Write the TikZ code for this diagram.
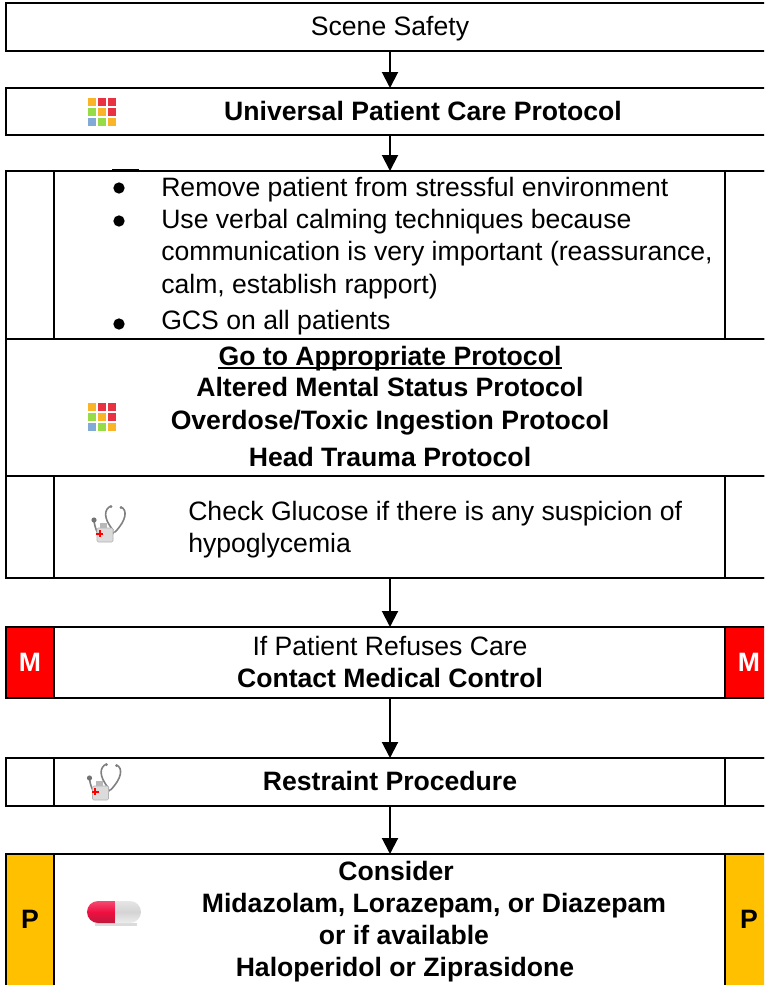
\documentclass[tikz,border=0pt]{standalone}
\usepackage{fontspec}
\setmainfont{Liberation Sans}
\usetikzlibrary{arrows.meta}
\definecolor{medred}{RGB}{255,0,0}
\definecolor{pgold}{RGB}{255,192,0}
\definecolor{gorange}{RGB}{250,180,40}
\definecolor{gred}{RGB}{232,50,65}
\definecolor{ggreen}{RGB}{150,220,70}
\definecolor{gblue}{RGB}{130,170,215}
\definecolor{pillred}{RGB}{240,15,65}
\definecolor{pilldark}{RGB}{190,25,60}
\tikzset{
  x=0.75pt,y=-0.75pt,
  boxframe/.style={draw=black,line width=1.5pt,inner sep=0pt,outer sep=0pt},
  redcell/.style={boxframe,fill=medred},
  goldcell/.style={boxframe,fill=pgold},
  txt/.style={anchor=base,inner sep=0pt,font=\fontsize{19.95pt}{24pt}\selectfont},
  ltxt/.style={txt,anchor=base west},
  btxt/.style={txt,font=\fontsize{19.95pt}{24pt}\selectfont\bfseries},
  flow/.style={draw=black,line width=1.5pt,-{Triangle[length=12pt,width=12pt]}},
  bulletdot/.style={circle,fill=black,inner sep=0pt,minimum size=8.5pt},
  tube/.style={draw=black!50,line width=1.2pt,line cap=round},
}
% \cellbox{name}{x1}{y1}{x2}{y2}{style}
\newcommand{\cellbox}[6]{%
  \pgfmathsetmacro{\cbw}{(#4-#2)*0.75}%
  \pgfmathsetmacro{\cbh}{(#5-#3)*0.75}%
  \node[#6,minimum width=\cbw pt,minimum height=\cbh pt] (#1) at ({(#2+#4)/2},{(#3+#5)/2}) {};}
\newcommand{\gridicon}[2]{%
  \begin{scope}[shift={(#1,#2)}]
    \foreach \cx/\cy/\cc in {0/0/gorange,10/0/gred,20/0/gred,0/10/ggreen,10/10/gorange,20/10/gred,0/20/gblue,10/20/ggreen,20/20/gorange}{
      \fill[\cc] (\cx,\cy) rectangle ++(8,8);
    }
  \end{scope}}
\newcommand{\stethicon}[2]{%
  \begin{scope}[shift={(#1,#2)}]
    \draw[tube] (31,11) .. controls (24,14) and (23,23) .. (33,35);
    \draw[tube] (41,12) .. controls (48,15) and (46,26) .. (35,37);
    \draw[tube] (34,37) .. controls (28,47) and (17,46) .. (14,26);
    \fill[black!55] (14,25) circle (2.6);
    \fill[black!50] (31,11.5) circle (1.5);
    \fill[black!50] (41,12.5) circle (1.5);
    \fill[black!14,draw=black!30,line width=0.4pt,rounded corners=1pt] (17,33) rectangle (33,47);
    \fill[black!28] (20,28) rectangle (27,33);
    \fill[red] (16,37.5) rectangle (23,39.5);
    \fill[red] (18.5,35) rectangle (20.5,42);
  \end{scope}}
\begin{document}
\begin{tikzpicture}
\useasboundingbox (0,0) rectangle (764,985);
\begin{scope}
\clip (0,0) rectangle (764,985);
% boxes
\cellbox{safety}{6}{3}{772}{51}{boxframe}
\cellbox{upcp}{6}{88}{772}{135}{boxframe}
\cellbox{care}{6}{171}{772}{339}{boxframe}
\cellbox{careL}{6}{171}{54}{339}{boxframe}
\cellbox{careR}{725}{171}{772}{339}{boxframe}
\cellbox{appro}{6}{339}{772}{476}{boxframe}
\cellbox{gluc}{6}{476}{772}{578}{boxframe}
\cellbox{glucL}{6}{476}{54}{578}{boxframe}
\cellbox{glucR}{725}{476}{772}{578}{boxframe}
\cellbox{refuse}{54}{627}{725}{698}{boxframe}
\cellbox{refuseL}{6}{627}{54}{698}{redcell}
\cellbox{refuseR}{725}{627}{772}{698}{redcell}
\cellbox{restr}{6}{758}{772}{806}{boxframe}
\cellbox{restrL}{6}{758}{54}{806}{boxframe}
\cellbox{restrR}{725}{758}{772}{806}{boxframe}
\cellbox{meds}{54}{854}{725}{995}{boxframe}
\cellbox{medsL}{6}{854}{54}{995}{goldcell}
\cellbox{medsR}{725}{854}{772}{995}{goldcell}
\end{scope}
\coordinate (ax) at (390,0);
\coordinate (markA) at (112,170.5);
\coordinate (markB) at (139,170.5);
% connectors
\draw[flow] (safety.south -| ax) -- (upcp.north -| ax);
\draw[flow] (upcp.south -| ax) -- (care.north -| ax);
\draw[flow] (gluc.south -| ax) -- (refuse.north -| ax);
\draw[flow] (refuse.south -| ax) -- (restr.north -| ax);
\draw[flow] (restr.south -| ax) -- (meds.north -| ax);
\draw[black,line width=2.4pt] (markA) -- (markB);
% text
\node[txt] (t1) at (390,36) {Scene Safety};
\node[btxt] (t2) at (423,120) {Universal Patient Care Protocol};
\node[bulletdot] (d1) at (119,188) {};
\node[bulletdot] (d2) at (119,221) {};
\node[bulletdot] (d3) at (119,324) {};
\node[ltxt] (t3) at (161,196) {Remove patient from stressful environment};
\node[ltxt] (t4) at (161,228) {Use verbal calming techniques because};
\node[ltxt] (t5) at (161,260) {communication is very important (reassurance,};
\node[ltxt] (t6) at (161,293) {calm, establish rapport)};
\node[ltxt] (t7) at (161,329) {GCS on all patients};
\node[btxt] (t8) at (390,365) {Go to Appropriate Protocol};
\draw[black,line width=2pt] ([yshift=-2.2pt]t8.base west) -- ([yshift=-2.2pt]t8.base east);
\node[btxt] (t9) at (390,396) {Altered Mental Status Protocol};
\node[btxt] (t10) at (390,429) {Overdose/Toxic Ingestion Protocol};
\node[btxt] (t11) at (390,466) {Head Trauma Protocol};
\node[ltxt] (t12) at (188,520) {Check Glucose if there is any suspicion of};
\node[ltxt] (t13) at (188,552) {hypoglycemia};
\node[txt] (t14) at (390,655) {If Patient Refuses Care};
\node[btxt] (t15) at (390,687) {Contact Medical Control};
\node[btxt,text=white] (t16) at (30,671) {M};
\node[btxt,text=white] (t17) at (749,671) {M};
\node[btxt] (t18) at (390,790) {Restraint Procedure};
\node[btxt] (t19) at (396,880) {Consider};
\node[btxt] (t20) at (434,912) {Midazolam, Lorazepam, or Diazepam};
\node[btxt] (t21) at (404,944) {or if available};
\node[btxt] (t22) at (405,976) {Haloperidol or Ziprasidone};
\node[btxt] (t23) at (30,928) {P};
\node[btxt] (t24) at (749,928) {P};
% icons
\gridicon{88}{98}
\gridicon{88}{403}
\stethicon{80}{495}
\stethicon{75.5}{753}
% pill
\fill[black!14] (95,923) rectangle (137,925.5);
\shade[top color=pillred!75!white,bottom color=pilldark,middle color=pillred] (115,901) -- (98,901) arc (90:270:8.25pt) -- (115,923) -- cycle;
\shade[top color=black!10,bottom color=black!7,middle color=black!17] (115,901) -- (130,901) arc (90:-90:8.25pt) -- (115,923) -- cycle;
\end{tikzpicture}
\end{document}
